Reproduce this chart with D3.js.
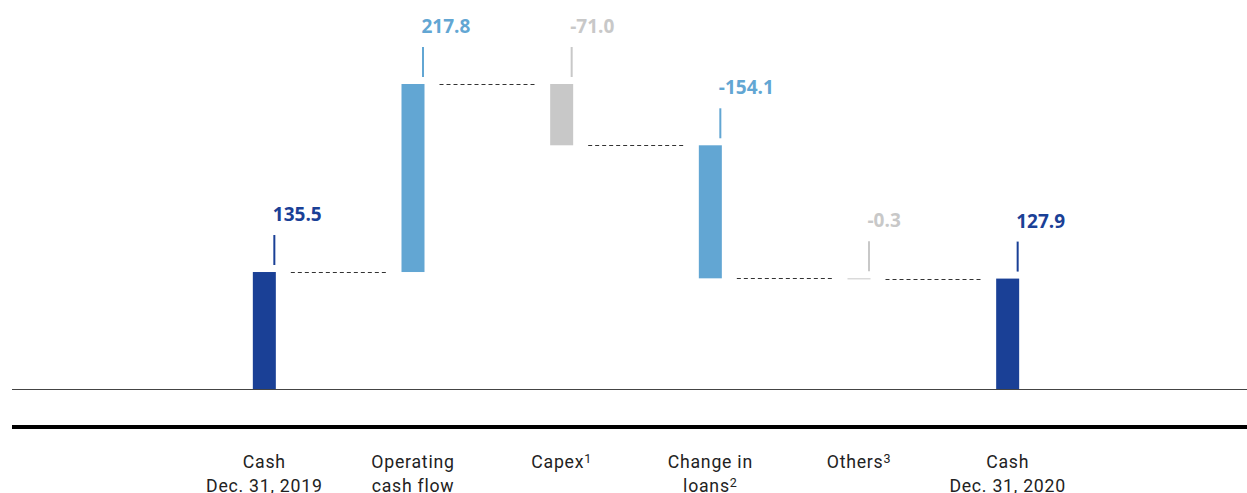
<!DOCTYPE html>
<html>
<head>
<meta charset="utf-8">
<script src="https://cdn.jsdelivr.net/npm/d3@7"></script>
<style>
    html, body { margin: 0; padding: 0; background: #fff; }
    #chart { width: 1247px; height: 493px; }
    .cat-label { font-family: Roboto, "Noto Sans", sans-serif; font-size: 17.7px; letter-spacing: 0.75px; fill: #222; }
    .value-label { font-family: "Open Sans", "Noto Sans", sans-serif; font-weight: 700; font-size: 19px; }
</style>
</head>
<body>
<div id="chart"></div>
<script>
// chart data
const categories = ['Cash 2019', 'Operating cash flow', 'Capex', 'Change in loans', 'Others', 'Cash 2020'];
const categoryLines = [['Cash', 'Dec. 31, 2019'], ['Operating', 'cash flow'], ['Capex'], ['Change in', 'loans'], ['Others'], ['Cash', 'Dec. 31, 2020']];
const footnotes = ['', '', '1', '2', '3', ''];
const values = [135.5, 217.8, -71.0, -154.1, -0.3, 127.9];
const valueLabels = ['135.5', '217.8', '-71.0', '-154.1', '-0.3', '127.9'];
const barTypes = ['total', 'delta', 'delta', 'delta', 'delta', 'total'];
const colorKeys = ['cash', 'flow', 'other', 'flow', 'other', 'cash'];

const colors = {
    cash: '#1a4096',
    flow: '#62a6d3',
    other: '#c8c8c8'
};

const width = 1247;
const height = 493;
const margin = { left: 12, baseline: 389, top: 84 };
const barWidth = 23;

// build waterfall steps: each bar goes from start to end
const steps = [];
let level = 0;
values.forEach((v, i) => {
    let start, end;
    if (barTypes[i] === 'total') {
        start = 0;
        end = v;
        level = v;
    }
    else {
        start = level;
        end = level + v;
        level = end;
    }
    steps.push({ name: categories[i], i, start, end, top: Math.max(start, end), bottom: Math.min(start, end), level });
});

const svg = d3.select('#chart')
    .append('svg')
    .attr('width', width)
    .attr('height', height);

// scales
const xScale = d3.scaleBand()
    .domain(categories)
    .range([190, 1082])
    .paddingInner(0.845)
    .paddingOuter(0.4225);

const yMax = d3.max(steps, d => d.top);
const yScale = d3.scaleLinear()
    .domain([0, yMax])
    .range([margin.baseline, margin.top]);

const bw = xScale.bandwidth();
const barX = d => xScale(d.name) + (bw - barWidth) / 2;

// zero line
svg.append('line')
    .attr('x1', margin.left)
    .attr('x2', width)
    .attr('y1', yScale(0) + 0.5)
    .attr('y2', yScale(0) + 0.5)
    .attr('stroke', '#444')
    .attr('stroke-width', 1.2);

// thick rule above category labels
svg.append('line')
    .attr('x1', margin.left)
    .attr('x2', width)
    .attr('y1', 427)
    .attr('y2', 427)
    .attr('stroke', '#000')
    .attr('stroke-width', 4);

// dashed connectors between bars
svg.selectAll('.connector')
    .data(steps.slice(0, -1))
    .enter()
    .append('line')
    .attr('class', 'connector')
    .attr('x1', d => barX(d) + barWidth + 15)
    .attr('x2', d => barX(steps[d.i + 1]) - 15)
    .attr('y1', d => Math.round(yScale(d.level)) + 0.5)
    .attr('y2', d => Math.round(yScale(d.level)) + 0.5)
    .attr('stroke', '#333')
    .attr('stroke-width', 1)
    .attr('stroke-dasharray', '4,3');

// bars
svg.selectAll('.bar')
    .data(steps)
    .enter()
    .append('rect')
    .attr('class', 'bar')
    .attr('x', d => barX(d))
    .attr('width', barWidth)
    .attr('y', d => yScale(d.top))
    .attr('height', d => Math.max(1, yScale(d.bottom) - yScale(d.top)))
    .attr('fill', d => colors[colorKeys[d.i]]);

// value ticks + labels above each bar
const tickX = d => barX(d) + barWidth - 1.5;

svg.selectAll('.value-tick')
    .data(steps)
    .enter()
    .append('line')
    .attr('class', 'value-tick')
    .attr('x1', tickX)
    .attr('x2', tickX)
    .attr('y1', d => yScale(d.top) - 37)
    .attr('y2', d => yScale(d.top) - 7)
    .attr('stroke', d => colors[colorKeys[d.i]])
    .attr('stroke-width', 2);

svg.selectAll('.value-label')
    .data(steps)
    .enter()
    .append('text')
    .attr('class', 'value-label')
    .attr('x', d => tickX(d) - 1.5)
    .attr('y', d => yScale(d.top) - 51)
    .attr('fill', d => colors[colorKeys[d.i]])
    .text(d => valueLabels[d.i]);

// category labels (two lines, footnote superscripts)
const catLabels = svg.selectAll('.cat-label')
    .data(steps)
    .enter()
    .append('text')
    .attr('class', 'cat-label')
    .attr('text-anchor', 'middle')
    .attr('y', 468.3);

catLabels.each(function (d) {
    const text = d3.select(this);
    const cx = xScale(d.name) + bw / 2;
    const lines = categoryLines[d.i];
    lines.forEach((line, k) => {
        text.append('tspan')
            .attr('x', cx)
            .attr('dy', k === 0 ? 0 : 23.4)
            .text(line);
        if (k === lines.length - 1 && footnotes[d.i]) {
            text.append('tspan')
                .attr('dy', -5)
                .attr('font-size', '12.5px')
                .text(footnotes[d.i]);
            text.append('tspan').attr('dy', 5).text('');
        }
    });
});
</script>
</body>
</html>
